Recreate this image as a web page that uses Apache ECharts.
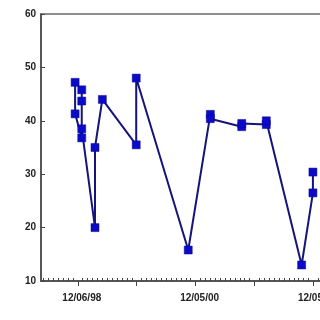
<!DOCTYPE html>
<html>
<head>
<meta charset="utf-8">
<script src="https://cdn.jsdelivr.net/npm/echarts@6/dist/echarts.min.js"></script>
<style>html,body{margin:0;padding:0;background:#fff}#c{width:320px;height:320px}</style>
</head>
<body>
<div id="c"></div>
<script>
// x in months relative to 12/06/98
var months = [-0.55, -0.55, 0.8, 0.8, 0.8, 0.8, 3.5, 3.5, 5.0, 11.9, 11.9, 22.5, 27.0, 27.0, 33.4, 33.4, 38.4, 38.4, 45.6, 47.9, 47.9];
var values = [47.2, 41.3, 36.8, 45.8, 43.7, 38.5, 20.0, 35.0, 44.0, 35.5, 48.0, 15.8, 41.2, 40.4, 38.9, 39.5, 39.3, 40.0, 13.0, 26.5, 30.4];
var majorTicks = [0, 12, 24, 36, 48];
var labelTicks = [0, 24, 48];
var tickLabels = ['12/06/98', '12/05/00', '12/05/02'];
var yTicks = [10, 20, 30, 40, 50, 60];

var minorTicks = [];
for (var m = -7; m <= 49; m++) { if (majorTicks.indexOf(m) < 0) minorTicks.push(m); }

var chart = echarts.init(document.getElementById('c'), null, {renderer: 'canvas'});
var xMin = -7.5, xMax = 49.75;
chart.setOption({
  animation: false,
  grid: {left: 41, right: -2, top: 14, bottom: 39, outerBoundsMode: 'none', containLabel: false,
         show: true, borderColor: '#6a6a6a', borderWidth: 1.5, backgroundColor: 'transparent'},
  xAxis: [{
    type: 'value', min: xMin, max: xMax, position: 'bottom',
    axisLine: {show: true, onZero: false, lineStyle: {color: '#444', width: 1.5}},
    axisTick: {show: true, inside: true, length: 3, customValues: minorTicks, lineStyle: {color: '#444', width: 1}},
    axisLabel: {show: false},
    splitLine: {show: false}
  }, {
    type: 'value', min: xMin, max: xMax, position: 'bottom',
    axisLine: {show: false, onZero: false},
    axisTick: {show: true, inside: false, length: 5, customValues: majorTicks, lineStyle: {color: '#444', width: 1}},
    axisLabel: {
      show: true, customValues: labelTicks, margin: 12,
      padding: [0, 0, 0, 8],
      fontFamily: 'Arial, Liberation Sans, sans-serif', fontSize: 10, fontWeight: 'bold', color: '#222',
      formatter: function (v) { var i = labelTicks.indexOf(v); return i >= 0 ? tickLabels[i] : ''; }
    },
    splitLine: {show: false}
  }],
  yAxis: {
    type: 'value', min: 10, max: 60, interval: 10,
    axisLine: {show: true, onZero: false, lineStyle: {color: '#444', width: 1.5}},
    axisTick: {show: true, inside: true, length: 4, lineStyle: {color: '#444'}},
    axisLabel: {
      margin: 5, fontFamily: 'Arial, Liberation Sans, sans-serif', fontSize: 10, fontWeight: 'bold', color: '#222',
      customValues: yTicks
    },
    splitLine: {show: false}
  },
  series: [{
    type: 'line',
    xAxisIndex: 0,
    data: months.map(function (x, i) { return [x, values[i]]; }),
    symbol: 'rect', symbolSize: 8,
    lineStyle: {color: '#14147a', width: 2},
    itemStyle: {color: '#0a0ac8', borderColor: '#0a0a90', borderWidth: 0.5},
    z: 3
  }]
});
</script>
</body>
</html>
